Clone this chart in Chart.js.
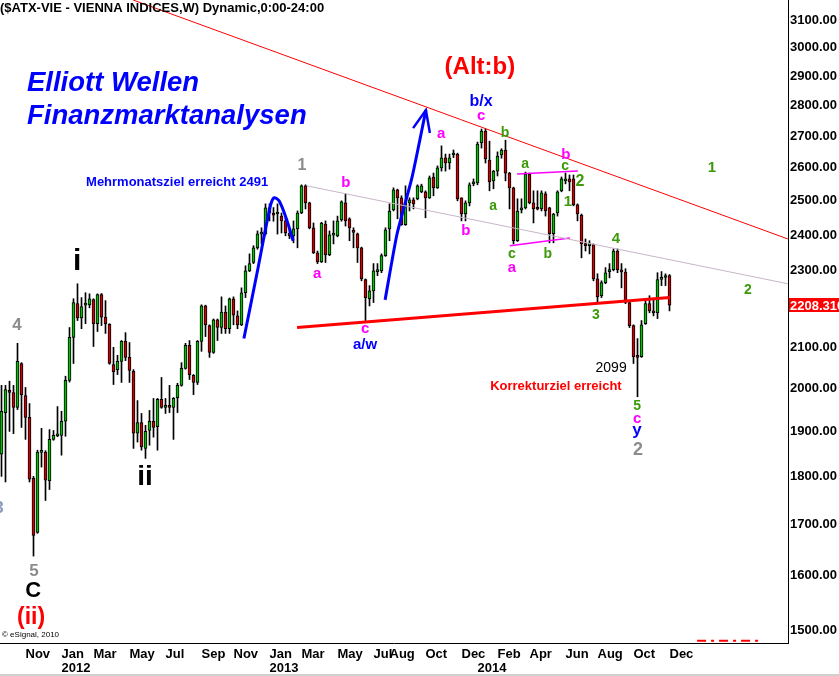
<!DOCTYPE html>
<html>
<head>
<meta charset="utf-8">
<title>ATX weekly - Elliott Wellen</title>
<script src="https://cdn.jsdelivr.net/npm/chart.js@4.4.1/dist/chart.umd.min.js"></script>
<style>
  html, body { margin: 0; padding: 0; background: #fff; }
  #wrap { position: relative; width: 839px; height: 676px; }
</style>
</head>
<body>
<div id="wrap"><canvas id="atxChart" width="839" height="676"></canvas></div>
<script>
// weekly bars of the ATX, first bar = week ending Fri 2011-09-23
const opens = [1849,1943,1995,1990,1955,2060,1983,1932,1797,1685,
  1853,1854,1791,1882,1890,1891,1923,2019,2125,2212,
  2175,2208,2209,2223,2160,2236,2177,2158,2057,2045,
  2065,2115,2075,2041,1896,1920,1862,1902,1923,1911,
  1974,1955,1960,1955,1978,2007,2048,2105,2031,2014,
  2115,2206,2155,2087,2170,2150,2190,2147,2225,2180,
  2157,2241,2300,2323,2364,2403,2404,2479,2462,2461,
  2455,2441,2406,2398,2418,2464,2545,2494,2421,2350,
  2325,2432,2344,2400,2398,2444,2494,2447,2410,2404,
  2364,2276,2225,2246,2298,2300,2342,2418,2473,2533,
  2509,2430,2494,2503,2506,2527,2527,2509,2572,2539,
  2600,2631,2615,2640,2643,2509,2461,2494,2551,2554,
  2678,2716,2624,2560,2590,2640,2656,2584,2539,2384,
  2473,2479,2581,2494,2477,2476,2521,2479,2404,2464,
  2530,2560,2566,2566,2488,2458,2375,2370,2373,2278,
  2233,2268,2298,2303,2355,2303,2297,2215,2155,2079,
  2077,2160,2212,2193,2188,2277,2282,2287];

const highs = [2007,2007,2017,2007,2110,2062,2002,1964,1801,1858,
  1907,1857,1904,1902,1957,1946,2029,2150,2225,2265,
  2228,2241,2238,2225,2238,2239,2220,2160,2100,2080,
  2117,2137,2112,2045,1971,1941,1914,1948,1976,1976,
  2026,1976,2007,1978,2012,2062,2110,2117,2033,2117,
  2209,2208,2157,2172,2172,2230,2206,2227,2230,2193,
  2254,2314,2347,2370,2412,2421,2491,2491,2480,2491,
  2464,2450,2418,2441,2470,2548,2548,2496,2435,2355,
  2437,2441,2412,2441,2455,2500,2521,2450,2421,2406,
  2366,2278,2260,2320,2320,2347,2421,2491,2539,2535,
  2515,2545,2509,2509,2548,2550,2530,2575,2584,2606,
  2669,2643,2643,2656,2646,2509,2500,2554,2566,2681,
  2723,2723,2684,2592,2650,2660,2687,2586,2541,2506,
  2506,2587,2584,2530,2530,2530,2527,2481,2463,2530,
  2572,2584,2578,2578,2491,2461,2389,2384,2375,2292,
  2273,2309,2320,2361,2361,2320,2306,2220,2157,2122,
  2168,2225,2233,2225,2295,2298,2292,2290];

const lows = [1801,1789,1900,1895,1950,1909,1882,1789,1638,1683,
  1821,1750,1773,1880,1888,1847,1889,2015,2060,2168,
  2147,2160,2201,2102,2140,2155,2135,2058,2009,2033,
  2014,2067,2014,1862,1876,1858,1840,1869,1887,1858,
  1953,1941,1943,1882,1943,2005,2046,2021,1985,2009,
  2090,2127,2075,2085,2117,2135,2135,2135,2157,2147,
  2155,2228,2298,2320,2360,2375,2400,2441,2440,2403,
  2406,2398,2390,2378,2364,2462,2476,2418,2348,2320,
  2323,2323,2342,2375,2395,2440,2426,2384,2364,2323,
  2273,2168,2206,2215,2287,2295,2340,2384,2470,2447,
  2428,2428,2470,2476,2503,2524,2450,2507,2515,2537,
  2590,2590,2596,2632,2500,2441,2441,2485,2545,2548,
  2662,2615,2530,2536,2575,2630,2560,2476,2375,2382,
  2464,2476,2491,2435,2473,2470,2455,2378,2378,2455,
  2527,2551,2530,2485,2441,2336,2355,2347,2273,2212,
  2228,2265,2281,2300,2295,2254,2212,2150,2060,1980,
  2075,2158,2188,2180,2173,2260,2260,2193];

const closes = [1946,1997,1990,1955,2065,1985,1932,1795,1679,1854,
  1855,1793,1882,1891,1892,1923,2019,2125,2215,2175,
  2204,2210,2225,2160,2236,2177,2160,2060,2040,2065,
  2115,2075,2043,1896,1920,1865,1900,1923,1909,1974,
  1955,1960,1955,1976,2007,2048,2105,2033,2014,2115,
  2206,2157,2087,2170,2150,2190,2147,2225,2182,2157,
  2241,2300,2320,2364,2404,2406,2479,2464,2458,2463,
  2441,2406,2398,2418,2464,2545,2494,2421,2350,2325,
  2435,2344,2401,2402,2441,2497,2441,2421,2408,2364,
  2278,2228,2246,2300,2301,2342,2415,2470,2533,2509,
  2430,2494,2503,2491,2545,2545,2509,2569,2539,2600,
  2631,2615,2631,2646,2506,2461,2494,2548,2554,2675,
  2716,2628,2557,2590,2637,2656,2584,2539,2384,2470,
  2479,2581,2494,2476,2475,2524,2470,2404,2461,2527,
  2566,2566,2557,2488,2461,2375,2370,2375,2278,2230,
  2268,2295,2302,2355,2303,2297,2215,2155,2077,2075,
  2157,2212,2193,2188,2276,2280,2286,2208.31];

// axis labels
const monthTicks = ['2011-11','2012-01','2012-03','2012-05','2012-07','2012-09','2012-11',
  '2013-01','2013-03','2013-05','2013-07','2013-08','2013-10','2013-12',
  '2014-02','2014-04','2014-06','2014-08','2014-10','2014-12'];
const yearTicks = ['2012-01','2013-01','2014-01'];
const monthNames = ['Jan','Feb','Mar','Apr','May','Jun','Jul','Aug','Sep','Oct','Nov','Dec'];
const priceTicks = [1500,1600,1700,1800,1900,2000,2100,2300,2400,2500,2600,2700,2800,2900,3000,3100];
const lastClose = closes[closes.length - 1];

const FONT = "Arial, 'Liberation Sans', Helvetica, sans-serif";
const BLUE = '#0000ff', RED = '#ff0000', MAGENTA = '#ff00ff', GREEN = '#3c9a0a',
      GRAY = '#8c8c8c', BLACK = '#000000';

// y range of the plot area (log scale)
const yMin = 1477, yMax = 3175;
const xMin = -0.375, xMax = 196.625;

// wave counts, placed at (week, price)
const notes = [
  {text: 'i', week: 18.9, price: 2325, color: BLACK, size: 30},
  {text: 'ii', week: 35.9, price: 1799, color: BLACK, size: 28},
  {text: '3', week: -0.6, price: 1734, color: '#8899bb', size: 17},
  {text: '4', week: 3.9, price: 2155, color: GRAY, size: 17},
  {text: '5', week: 8.1, price: 1609, color: GRAY, size: 17},
  {text: 'C', week: 7.9, price: 1571, color: BLACK, size: 22},
  {text: '(ii)', week: 7.4, price: 1522, color: RED, size: 23},
  {text: 'Mehrmonatsziel erreicht 2491', week: 43.9, price: 2554, color: BLUE, size: 13},
  {text: '1', week: 75.1, price: 2606, color: GRAY, size: 16},
  {text: 'a', week: 78.9, price: 2292, color: MAGENTA, size: 15},
  {text: 'b', week: 86.1, price: 2554, color: MAGENTA, size: 15},
  {text: 'c', week: 90.9, price: 2147, color: MAGENTA, size: 15},
  {text: 'a/w', week: 90.9, price: 2105, color: BLUE, size: 15},
  {text: 'a', week: 109.9, price: 2707, color: MAGENTA, size: 15},
  {text: 'b', week: 116.1, price: 2412, color: MAGENTA, size: 15},
  {text: 'c', week: 119.9, price: 2765, color: MAGENTA, size: 15},
  {text: 'b/x', week: 119.9, price: 2812, color: BLUE, size: 16},
  {text: '(Alt:b)', week: 119.6, price: 2931, color: RED, size: 24},
  {text: 'b', week: 125.9, price: 2710, color: GREEN, size: 14},
  {text: 'a', week: 122.9, price: 2485, color: GREEN, size: 14},
  {text: 'a', week: 130.9, price: 2612, color: GREEN, size: 14},
  {text: 'c', week: 127.6, price: 2347, color: GREEN, size: 14},
  {text: 'a', week: 127.6, price: 2309, color: MAGENTA, size: 15},
  {text: 'b', week: 136.6, price: 2347, color: GREEN, size: 14},
  {text: 'b', week: 141.1, price: 2640, color: MAGENTA, size: 15},
  {text: 'c', week: 140.9, price: 2606, color: GREEN, size: 14},
  {text: '2', week: 144.6, price: 2557, color: GREEN, size: 16},
  {text: '1', week: 141.6, price: 2497, color: GREEN, size: 15},
  {text: '4', week: 153.6, price: 2389, color: GREEN, size: 15},
  {text: '3', week: 148.6, price: 2181, color: GREEN, size: 14},
  {text: '1', week: 177.6, price: 2600, color: GREEN, size: 15},
  {text: '2', week: 186.6, price: 2249, color: GREEN, size: 14},
  {text: '2099', week: 152.4, price: 2048, color: BLACK, size: 14, weight: 'normal'},
  {text: 'Korrekturziel erreicht', week: 138.6, price: 2004, color: RED, size: 13},
  {text: '5', week: 158.9, price: 1959, color: GREEN, size: 14},
  {text: 'c', week: 158.9, price: 1929, color: MAGENTA, size: 15},
  {text: 'y', week: 158.9, price: 1902, color: BLUE, size: 17},
  {text: '2', week: 159.1, price: 1858, color: GRAY, size: 18}
];

// drawn trend lines and arrows, points as [week, price]
const guides = [
  {color: RED, width: 1, points: [[32.9, 3175], [196.6, 2389]]},
  {color: '#c8b4c8', width: 1, points: [[76.3, 2545], [196.6, 2265]]},
  {color: RED, width: 3, points: [[73.9, 2150], [167.1, 2228]]},
  {color: MAGENTA, width: 1.5, points: [[128.9, 2581], [144.1, 2590]]},
  {color: MAGENTA, width: 1.5, points: [[127.1, 2370], [142.1, 2392]]},
  {color: BLUE, width: 3, tension: 0.3,
    points: [[60.6, 2122], [64.1, 2306], [67.1, 2479], [68.1, 2509], [69.4, 2500], [71.4, 2441], [72.9, 2384]]},
  {color: BLUE, width: 3, tension: 0.2, points: [[95.9, 2222], [98.9, 2404], [102.6, 2569], [106.1, 2785]]},
  {color: BLUE, width: 2.5, points: [[102.9, 2726], [106.1, 2785], [107.1, 2710]]},
  {color: RED, width: 2, dash: [9, 5, 3, 5], points: [[173.9, 1481], [189.6, 1481]]}
];

// x tick labels: first weekly bar of each labelled month
const startWeek = Date.UTC(2011, 8, 23);
const weekMs = 7 * 24 * 3600 * 1000;
const weekOf = ym => closes.findIndex((_, i) => new Date(startWeek + i * weekMs).toISOString().slice(0, 7) === ym);

const xTickLabels = {};
monthTicks.forEach(ym => {
  xTickLabels[weekOf(ym)] = [monthNames[Number(ym.slice(5)) - 1], ''];
});
yearTicks.forEach(ym => {
  const w = weekOf(ym);
  xTickLabels[w] = xTickLabels[w] || ['', ''];
  xTickLabels[w][1] = ym.slice(0, 4);
});
const xTickWeeks = Object.keys(xTickLabels).map(Number).sort((a, b) => a - b);

const idx = closes.map((_, i) => i);
const bodies = idx.map(i => ({x: i, y: [opens[i], closes[i]]}));
const wicks = idx.map(i => ({x: i, y: [lows[i], highs[i]]}));
const bodyColors = idx.map(i => closes[i] >= opens[i] ? '#00c000' : '#cc0000');

const lineSets = guides.map(g => ({
  type: 'line',
  data: g.points.map(p => ({x: p[0], y: p[1]})),
  borderColor: g.color,
  borderWidth: g.width,
  borderDash: g.dash || [],
  tension: g.tension || 0,
  pointRadius: 0,
  fill: false,
  clip: false,
  order: 1
}));

const overlay = {
  id: 'overlay',
  afterDatasetsDraw(chart) {
    const {ctx, scales: {x, y}} = chart;
    ctx.save();
    ctx.textAlign = 'center';
    ctx.textBaseline = 'middle';
    notes.forEach(n => {
      ctx.font = `${n.weight || 'bold'} ${n.size}px ${FONT}`;
      ctx.fillStyle = n.color;
      ctx.fillText(n.text, x.getPixelForValue(n.week), y.getPixelForValue(n.price));
    });
    ctx.restore();
  },
  afterDraw(chart) {
    const {ctx, scales: {y}} = chart;
    ctx.save();
    ctx.fillStyle = '#000';
    ctx.textBaseline = 'alphabetic';
    ctx.textAlign = 'left';
    ctx.font = `bold 13px ${FONT}`;
    ctx.fillText('($ATX-VIE - VIENNA INDICES,W) Dynamic,0:00-24:00', 0, 12);

    ctx.fillStyle = BLUE;
    ctx.font = `italic bold 27.5px ${FONT}`;
    ctx.fillText('Elliott Wellen', 27, 91);
    ctx.fillText('Finanzmarktanalysen', 27, 124);

    ctx.fillStyle = '#000';
    ctx.font = `8px ${FONT}`;
    ctx.fillText('\u00a9 eSignal, 2010', 2, 637);

    // last price tag on the axis
    const py = Math.round(y.getPixelForValue(lastClose));
    ctx.fillStyle = RED;
    ctx.fillRect(789, py - 7, 50, 14);
    ctx.fillStyle = '#fff';
    ctx.font = `bold 13px ${FONT}`;
    ctx.textBaseline = 'middle';
    ctx.fillText(lastClose.toFixed(3), 790, py + 1);

    ctx.fillStyle = '#d0d0d0';
    ctx.fillRect(0, 674, 839, 2);
    ctx.restore();
  }
};

Chart.defaults.font.family = FONT;

new Chart(document.getElementById('atxChart').getContext('2d'), {
  type: 'bar',
  data: {
    datasets: [
      {
        data: bodies,
        backgroundColor: bodyColors,
        borderColor: '#000',
        borderWidth: 1,
        borderSkipped: false,
        barThickness: 3,
        minBarLength: 2,
        grouped: false,
        order: 2
      },
      {
        data: wicks,
        backgroundColor: '#000',
        borderWidth: 0,
        barThickness: 1,
        grouped: false,
        order: 3
      },
      ...lineSets
    ]
  },
  options: {
    responsive: false,
    animation: false,
    events: [],
    layout: {padding: 0},
    plugins: {
      legend: {display: false},
      tooltip: {enabled: false}
    },
    scales: {
      x: {
        type: 'linear',
        min: xMin,
        max: xMax,
        offset: false,
        grid: {display: false, drawTicks: false},
        border: {display: true, color: '#000', width: 1},
        afterBuildTicks: s => { s.ticks = xTickWeeks.map(v => ({value: v})); },
        afterFit: s => { s.height = 33; },
        ticks: {
          autoSkip: false,
          maxRotation: 0,
          minRotation: 0,
          align: 'start',
          padding: 4,
          color: '#000',
          font: {size: 13, weight: 'bold', lineHeight: 1.1},
          callback: v => xTickLabels[v] || ''
        }
      },
      y: {
        type: 'logarithmic',
        position: 'right',
        min: yMin,
        max: yMax,
        grid: {display: false, drawTicks: false},
        border: {display: true, color: '#000', width: 1},
        afterBuildTicks: s => { s.ticks = [yMin, ...priceTicks, yMax].map(v => ({value: v})); },
        afterFit: s => { s.width = 51; s.paddingTop = 0; s.paddingBottom = 0; },
        ticks: {
          padding: 2,
          color: '#000',
          font: {size: 13, weight: 'bold'},
          callback: v => priceTicks.includes(v) ? v.toFixed(2) : null
        }
      }
    }
  },
  plugins: [overlay]
});
</script>
</body>
</html>
